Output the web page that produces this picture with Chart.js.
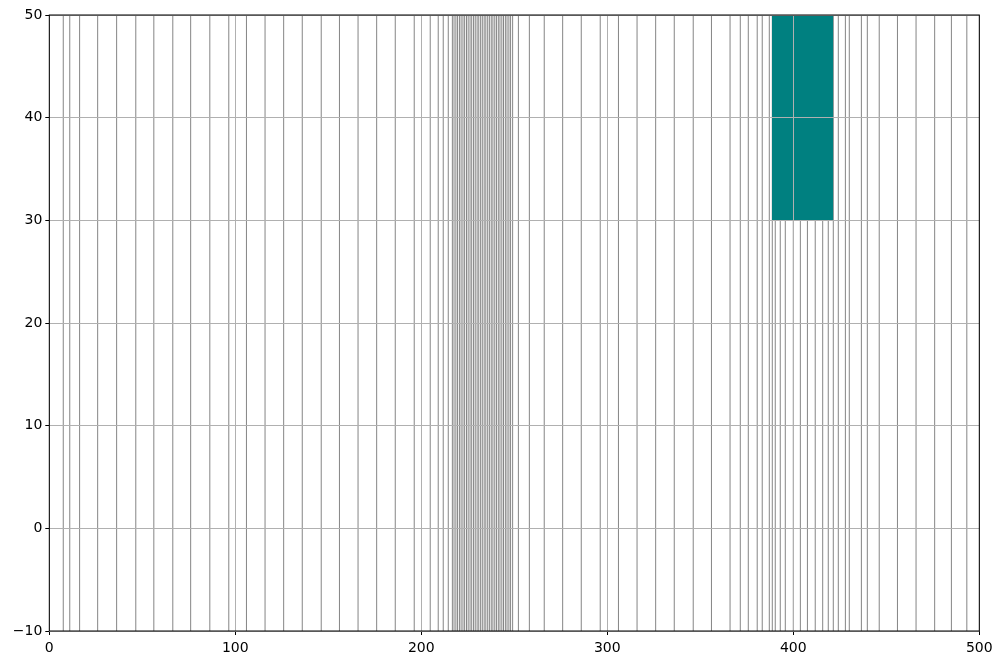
<!DOCTYPE html>
<html>
<head>
<meta charset="utf-8">
<script src="https://cdn.jsdelivr.net/npm/chart.js@4/dist/chart.umd.min.js"></script>
<style>
  html, body { margin: 0; padding: 0; background: #fff; }
  #wrap { width: 1002px; height: 665px; }
</style>
</head>
<body>
<div id="wrap"><canvas id="myChart" width="1002" height="665"></canvas></div>
<script>
// data
const lineX = [
  7.5, 11, 16.3, 26, 36.2, 46.5, 56.2, 66.4, 76, 86.3, 96.5,
  106, 116, 126, 136, 146.2, 156, 166, 176, 186, 196.2,
  204.8, 209.1, 211.8, 214.5,
  216.7, 217.6, 218.6, 219.5, 220.5, 221.4, 222.4, 223.3, 224.3, 225.2,
  226.2, 227.1, 228.1, 229, 230, 230.9, 231.9, 232.8, 233.8, 234.7,
  235.7, 236.6, 237.6, 238.5, 239.5, 240.4, 241.4, 242.3, 243.3, 244.2,
  245.2, 246.1, 247.1, 248, 249.1,
  252.2, 258.1, 266.1, 276, 286, 296.2, 306, 316, 326, 336, 346.2, 356,
  366, 371.5, 375.8, 380.6, 383.3, 387.1, 388.7, 390.3, 393, 395.7,
  400, 403.8, 407.6, 411.8, 415.8, 418.8, 421.5, 424.2, 428, 430.1,
  436.6, 439.8, 446.2, 456, 466, 476, 485, 493.3
];
const lineSpan = [-10, 50];   // every line runs over the full y range
const rectX = [388.5, 421.5];
const rectY = [30, 50];       // bottom, top
const xTicks = [0, 100, 200, 300, 400, 500];
const yTicks = [-10, 0, 10, 20, 30, 40, 50];

// one dataset for all vertical lines, split by null gaps
const linePoints = [];
for (const x of lineX) {
  linePoints.push({ x: x, y: lineSpan[0] });
  linePoints.push({ x: x, y: lineSpan[1] });
  linePoints.push({ x: x, y: null });
}

const data = {
  datasets: [
    {
      // teal block, drawn over the lines
      data: [{ x: rectX[0], y: rectY[1] }, { x: rectX[1], y: rectY[1] }],
      borderWidth: 0,
      pointRadius: 0,
      backgroundColor: '#008080',
      fill: { value: rectY[0] }
    },
    {
      data: linePoints,
      borderColor: '#858585',
      borderWidth: 1,
      pointRadius: 0,
      spanGaps: false,
      fill: false
    }
  ]
};

const frame = {
  id: 'frame',
  afterDraw(chart) {
    const a = chart.chartArea;
    const ctx = chart.ctx;
    ctx.save();
    ctx.strokeStyle = '#000';
    ctx.lineWidth = 1;
    ctx.strokeRect(a.left, a.top, a.right - a.left, a.bottom - a.top);
    ctx.restore();
  }
};

const tickFont = { family: 'DejaVu Sans', size: 14 };

const config = {
  type: 'line',
  data,
  options: {
    responsive: false,
    animation: false,
    devicePixelRatio: 1,
    layout: { padding: { top: 15, right: 22.7, left: 0, bottom: 0 } },
    plugins: { legend: { display: false }, tooltip: { enabled: false } },
    scales: {
      x: {
        type: 'linear',
        min: 0,
        max: 500,
        afterBuildTicks: (s) => { s.ticks = xTicks.map(v => ({ value: v })); },
        afterFit: (s) => { s.height = 34; },
        border: { display: false },
        grid: { z: 1, color: '#b0b0b0', lineWidth: 1, tickColor: '#000', tickLength: 4 },
        ticks: { color: '#000', font: tickFont, padding: 5, autoSkip: false, maxRotation: 0 }
      },
      y: {
        type: 'linear',
        min: -10,
        max: 50,
        afterBuildTicks: (s) => { s.ticks = yTicks.map(v => ({ value: v })); },
        afterFit: (s) => { s.width = 49.3; },
        border: { display: false },
        grid: { z: 1, color: '#b0b0b0', lineWidth: 1, tickColor: '#000', tickLength: 4 },
        ticks: {
          color: '#000', font: tickFont, padding: 3,
          callback: (v) => String(v).replace('-', '\u2212')
        }
      }
    }
  },
  plugins: [frame]
};

const myChart = new Chart(document.getElementById('myChart'), config);
</script>
</body>
</html>
